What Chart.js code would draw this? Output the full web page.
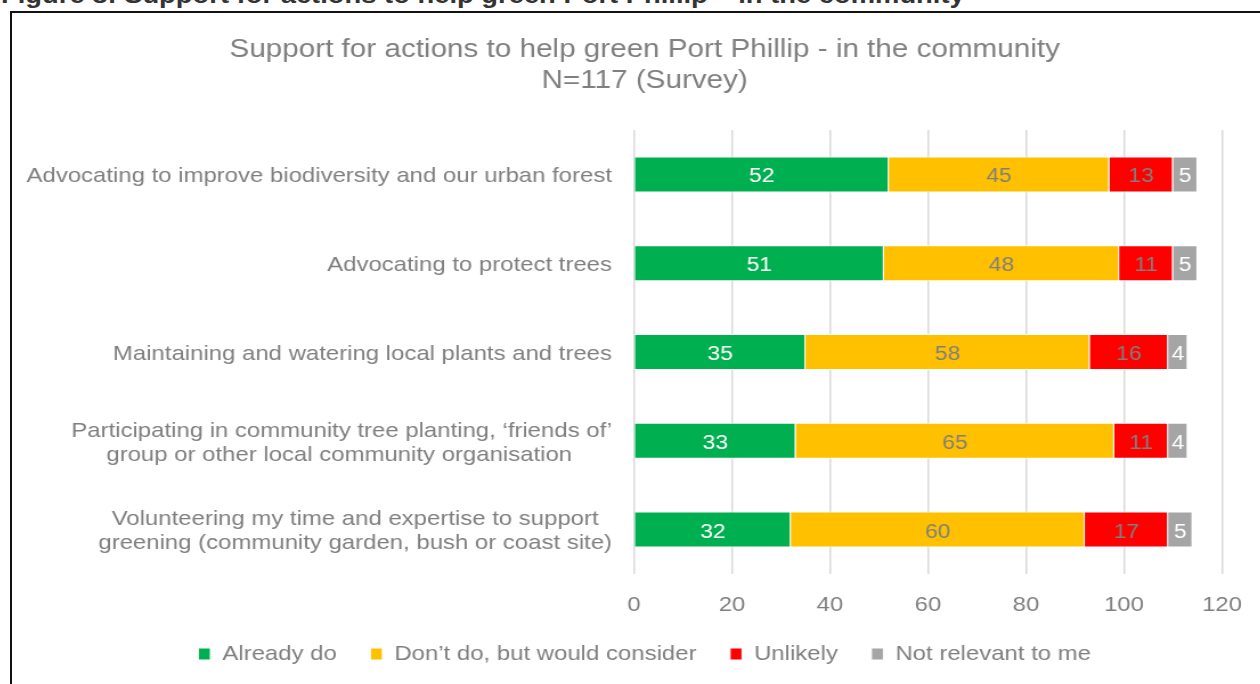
<!DOCTYPE html>
<html>
<head>
<meta charset="utf-8">
<script src="https://cdn.jsdelivr.net/npm/chart.js@4.4.1/dist/chart.umd.min.js"></script>
<style>
  body { margin: 0; background: #fff; overflow: hidden; width: 1260px; height: 684px; position: relative; }
  #heading { position: absolute; left: 1px; top: -17px; font: bold 24px/24px "Liberation Sans", Arial, sans-serif; color: #333; white-space: nowrap; transform: scaleX(1.14); transform-origin: left top; }
  #frame { position: absolute; left: 10px; top: 11px; width: 1265px; height: 687px; border: 2px solid #111; overflow: hidden; }
  /* the source picture is stretched sideways, so the canvas is too */
  #chart { display: block; transform: scaleX(1.14); transform-origin: left top; }
</style>
</head>
<body>
<div id="heading">Figure 8: Support for actions to help green Port Phillip – in the community</div>
<div id="frame"><canvas id="chart" width="1110" height="687"></canvas></div>
<script>
const categories = [
  "Advocating to improve biodiversity and our urban forest",
  "Advocating to protect trees",
  "Maintaining and watering local plants and trees",
  ["Participating in community tree planting, ‘friends of’", "group or other local community organisation"],
  ["Volunteering my time and expertise to support", "greening (community garden, bush or coast site)"]
];
const alreadyDo = [52, 51, 35, 33, 32];
const wouldConsider = [45, 48, 58, 65, 60];
const unlikely = [13, 11, 16, 11, 17];
const notRelevant = [5, 5, 4, 4, 5];
const xTicks = [0, 20, 40, 60, 80, 100, 120];

const textGrey = '#7f7f7f';
const fontFamily = '"Liberation Sans", Arial, sans-serif';
const labelFont = '21px ' + fontFamily;

// white labels on green/grey, grey labels on yellow/red
const labelColours = ['#ffffff', textGrey, textGrey, '#ffffff'];

const ctx = document.getElementById('chart').getContext('2d');

// two-line labels are centred on each other in the original, but the block is
// right aligned, so pad the shorter line with non-breaking spaces
function centreLines(label) {
  if (!Array.isArray(label)) return label;
  ctx.font = labelFont;
  const widths = label.map(l => ctx.measureText(l).width);
  const widest = Math.max(...widths);
  const space = ctx.measureText('\u00a0').width;
  return label.map((l, i) => l + '\u00a0'.repeat(Math.round((widest - widths[i]) / 2 / space)));
}

const barLabels = {
  id: 'barLabels',
  afterDatasetsDraw(chart) {
    const c = chart.ctx;
    c.save();
    c.font = '20px ' + fontFamily;
    c.textAlign = 'center';
    c.textBaseline = 'middle';
    chart.data.datasets.forEach((ds, i) => {
      const meta = chart.getDatasetMeta(i);
      meta.data.forEach((bar, j) => {
        const v = ds.data[j];
        if (!v) return;
        c.fillStyle = labelColours[i];
        c.fillText(String(v), (bar.x + bar.base) / 2, bar.y + 2.5);
      });
    });
    c.restore();
  }
};

function makeSet(label, data, colour) {
  return {
    label,
    data,
    backgroundColor: colour,
    borderColor: '#ffffff',
    borderWidth: 1,
    barPercentage: 0.405,
    categoryPercentage: 1
  };
}

new Chart(ctx, {
  type: 'bar',
  data: {
    labels: categories.map(centreLines),
    datasets: [
      makeSet('Already do', alreadyDo, '#00b050'),
      makeSet('Don’t do, but would consider', wouldConsider, '#ffc000'),
      makeSet('Unlikely', unlikely, '#ff0000'),
      makeSet('Not relevant to me', notRelevant, '#a5a5a5')
    ]
  },
  options: {
    indexAxis: 'y',
    responsive: false,
    animation: false,
    layout: { padding: { left: 0, right: 0, top: 0, bottom: 25.5 } },
    scales: {
      x: {
        stacked: true,
        min: xTicks[0],
        max: xTicks[xTicks.length - 1],
        afterBuildTicks: s => { s.ticks = xTicks.map(v => ({ value: v })); },
        grid: { color: '#d9d9d9', lineWidth: 1.5, drawTicks: false },
        border: { display: false },
        ticks: { color: textGrey, font: { size: 21, family: fontFamily }, padding: 19 },
        afterFit: s => { s.height = 40; }
      },
      y: {
        stacked: true,
        grid: { display: false, drawTicks: false },
        border: { display: false },
        ticks: { color: textGrey, font: { size: 21, family: fontFamily, lineHeight: 1.15 }, padding: 19.3, labelOffset: 2, autoSkip: false },
        afterFit: s => { s.width = 545.6; }
      },
      yRight: {
        position: 'right',
        grid: { display: false, drawTicks: false },
        border: { display: false },
        ticks: { display: false },
        afterFit: s => { s.width = 48.6; }
      }
    },
    plugins: {
      title: {
        display: true,
        text: ['Support for actions to help green Port Phillip - in the community', 'N=117 (Survey)'],
        color: textGrey,
        font: { size: 26, weight: 'normal', family: fontFamily, lineHeight: 1.2 },
        padding: { top: 21.4, bottom: 33.2 }
      },
      legend: {
        position: 'bottom',
        labels: {
          color: textGrey,
          font: { size: 21, family: fontFamily },
          boxWidth: 10.5,
          boxHeight: 12,
          padding: 29.5
        }
      },
      tooltip: { enabled: false }
    }
  },
  plugins: [barLabels]
});
</script>
</body>
</html>
